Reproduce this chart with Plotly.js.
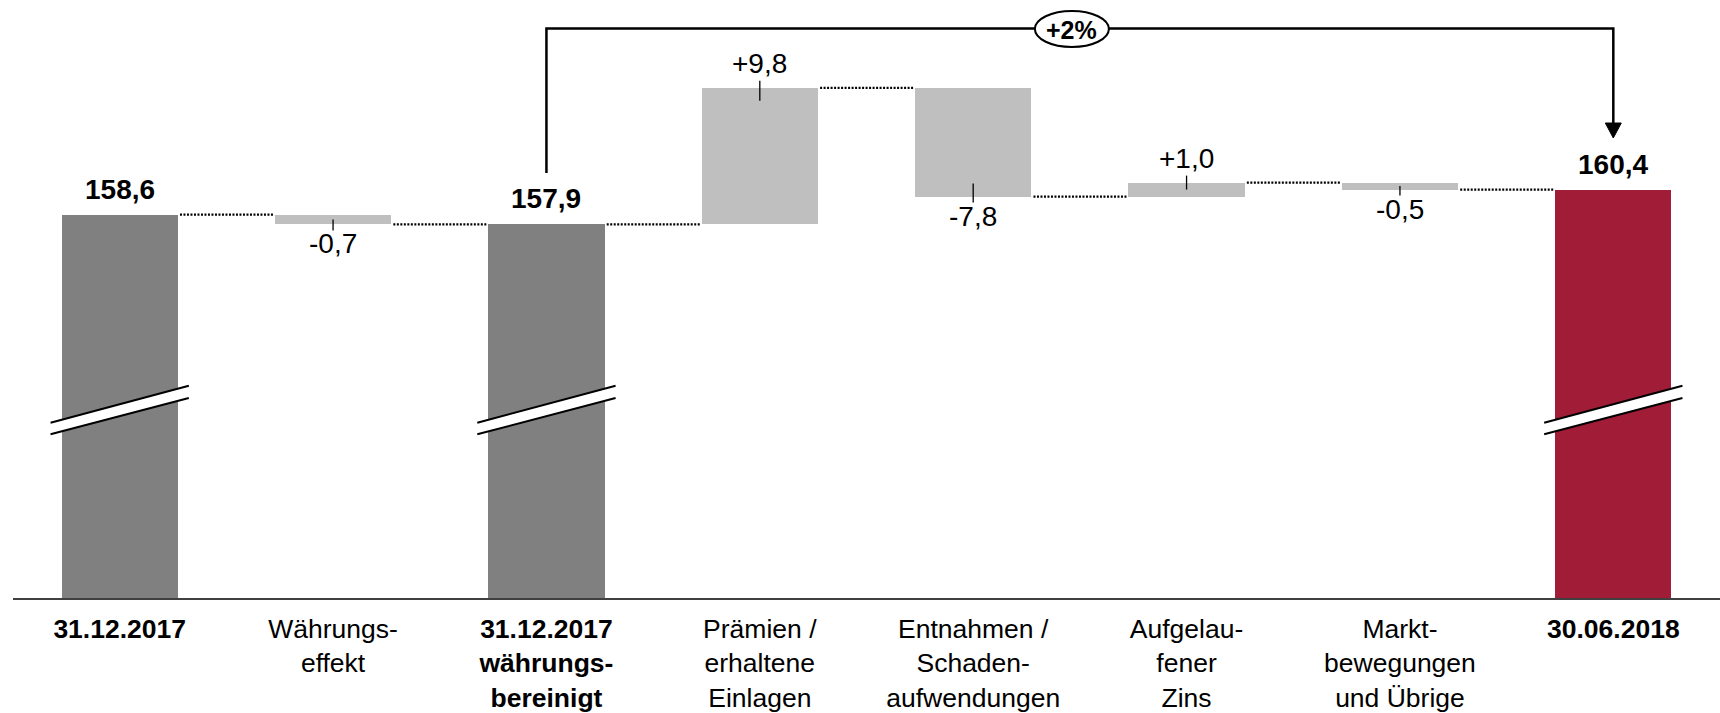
<!DOCTYPE html>
<html>
<head>
<meta charset="utf-8">
<script src="https://cdn.plot.ly/plotly-3.0.1.min.js"></script>
<style>
  html, body { margin: 0; padding: 0; background: #fff; }
  #chart { width: 1720px; height: 713px; }
</style>
</head>
<body>
<div id="chart"></div>
<script>
// ---- data ----
const categories = [
  '31.12.2017',
  'Währungs-<br>effekt',
  '31.12.2017<br>währungs-<br>bereinigt',
  'Prämien /<br>erhaltene<br>Einlagen',
  'Entnahmen /<br>Schaden-<br>aufwendungen',
  'Aufgelau-<br>fener<br>Zins',
  'Markt-<br>bewegungen<br>und Übrige',
  '30.06.2018'
];
const values = [158.6, -0.7, 157.9, 9.8, -7.8, 1.0, -0.5, 160.4];
const measures = ['total', 'relative', 'total', 'relative', 'relative', 'relative', 'relative', 'total'];
const bracketFrom = 2;
const bracketTo = 7;
const bracketLabel = '+2%';

// ---- layout constants ----
const W = 1720, H = 713;
const margin = {l: 13, r: 0, t: 0, b: 115};
const yMin = 131.1, yMax = 174.0;
const barW = 0.545;
const plotH = H - margin.t - margin.b;
const plotW = W - margin.l - margin.r;
const pxPerUnit = plotH / (yMax - yMin);
const pxPerX = plotW / 8;
const FONT = 'Liberation Sans, Arial, Helvetica, sans-serif';

const fmt = v => Math.abs(v).toFixed(1).replace('.', ',');

// ---- compute waterfall geometry from data ----
const xs = values.map((_, i) => i);
const bases = [], heights = [], levels = [], colors = [];
let run = 0;
const lastTotal = measures.lastIndexOf('total');
values.forEach((v, i) => {
  if (measures[i] === 'total') {
    bases.push(0); heights.push(v); run = v;
    colors.push(i === lastTotal ? '#A01C37' : '#808080');
  } else {
    bases.push(run); heights.push(v); run += v;
    colors.push('#BFBFBF');
  }
  levels.push(run);
});

const traces = [];
traces.push({
  type: 'bar', x: xs, y: heights, base: bases, width: barW,
  marker: {color: colors, line: {width: 0}},
  hoverinfo: 'skip', showlegend: false
});

// connectors (dotted)
const cx = [], cy = [];
for (let i = 0; i < values.length - 1; i++) {
  cx.push(i + barW / 2 + 0.01, i + 1 - barW / 2 - 0.005, null);
  cy.push(levels[i], levels[i], null);
}
traces.push({
  type: 'scatter', mode: 'lines', x: cx, y: cy,
  line: {color: '#000', width: 2.2, dash: '2px,1.5px'},
  hoverinfo: 'skip', showlegend: false, connectgaps: false
});

const annotations = [];
const shapes = [];

values.forEach((v, i) => {
  if (measures[i] === 'total') {
    annotations.push({
      x: i, y: v, xref: 'x', yref: 'y', yanchor: 'bottom', yshift: 8,
      text: '<b>' + fmt(v) + '</b>', showarrow: false,
      font: {family: FONT, size: 28, color: '#000'}
    });
  } else {
    const top = Math.max(bases[i], bases[i] + v);
    const bot = Math.min(bases[i], bases[i] + v);
    const hpx = Math.abs(v) * pxPerUnit;
    const inside = Math.min(13, hpx * 0.5);
    if (v >= 0) {
      annotations.push({
        x: i, y: top, xref: 'x', yref: 'y', yanchor: 'bottom', yshift: 7,
        text: '+' + fmt(v), showarrow: false,
        font: {family: FONT, size: 28, color: '#000'}
      });
      shapes.push({type: 'line', xref: 'x', yref: 'y', x0: i, x1: i,
        y0: top + 7 / pxPerUnit, y1: top - inside / pxPerUnit,
        line: {color: '#000', width: 1.3}});
    } else {
      annotations.push({
        x: i, y: bot, xref: 'x', yref: 'y', yanchor: 'top', yshift: -2,
        text: '-' + fmt(v), showarrow: false,
        font: {family: FONT, size: 28, color: '#000'}
      });
      shapes.push({type: 'line', xref: 'x', yref: 'y', x0: i, x1: i,
        y0: bot - 6 / pxPerUnit, y1: bot + inside / pxPerUnit,
        line: {color: '#000', width: 1.3}});
    }
  }
});

// axis-break marks on total bars
const py = px => 1 - (px - margin.t) / plotH;
values.forEach((v, i) => {
  if (measures[i] !== 'total') return;
  const ext = barW / 2 + 11 / pxPerX;
  const x0 = i - ext, x1 = i + ext;
  const u0 = py(422.7), u1 = py(385.7), l0 = py(434.3), l1 = py(398);
  shapes.push({type: 'path', xref: 'x', yref: 'paper',
    path: `M ${x0},${l0} L ${x1},${l1} L ${x1},${u1} L ${x0},${u0} Z`,
    fillcolor: '#fff', line: {width: 0}});
  shapes.push({type: 'path', xref: 'x', yref: 'paper',
    path: `M ${x0},${u0} L ${x1},${u1} M ${x0},${l0} L ${x1},${l1}`,
    line: {color: '#000', width: 2}});
});

// bracket with arrow
const yLineTop = py(28.5);
shapes.push({type: 'path', xref: 'x', yref: 'paper',
  path: `M ${bracketFrom},${py(173)} L ${bracketFrom},${yLineTop} L ${bracketTo},${yLineTop} L ${bracketTo},${py(124)}`,
  line: {color: '#000', width: 2.5}});
shapes.push({type: 'path', xref: 'x', xsizemode: 'pixel', xanchor: bracketTo, yref: 'paper',
  path: `M -8,${py(123)} L 8,${py(123)} L 0,${py(138)} Z`,
  fillcolor: '#000', line: {color: '#000', width: 1}});
// ellipse label
shapes.push({type: 'circle', xref: 'x', xsizemode: 'pixel', xanchor: 4.5, yref: 'paper',
  x0: -45, x1: 29, y0: py(47), y1: py(11),
  fillcolor: '#fff', line: {color: '#000', width: 2}});
annotations.push({x: 4.5, y: py(29.5), xref: 'x', yref: 'paper', yanchor: 'middle', xshift: -8,
  text: '<b>' + bracketLabel + '</b>', showarrow: false,
  font: {family: FONT, size: 25, color: '#000'}});

const ticktext = categories.map((c, i) => measures[i] === 'total' ? '<b>' + c + '</b>' : c);

const layout = {
  width: W, height: H, margin: margin,
  paper_bgcolor: '#fff', plot_bgcolor: '#fff',
  showlegend: false, bargap: 0,
  font: {family: FONT, color: '#000'},
  xaxis: {
    range: [-0.5, 7.5], tickmode: 'array', tickvals: xs, ticktext: ticktext,
    showline: true, linecolor: '#404040', linewidth: 2, showgrid: false,
    zeroline: false, ticks: '', ticklabelstandoff: 6,
    tickfont: {family: FONT, size: 26.5, color: '#000'},
    fixedrange: true
  },
  yaxis: {range: [yMin, yMax], visible: false, showgrid: false, zeroline: false, fixedrange: true},
  shapes: shapes,
  annotations: annotations
};

Plotly.newPlot('chart', traces, layout, {displayModeBar: false, staticPlot: true});
</script>
</body>
</html>
